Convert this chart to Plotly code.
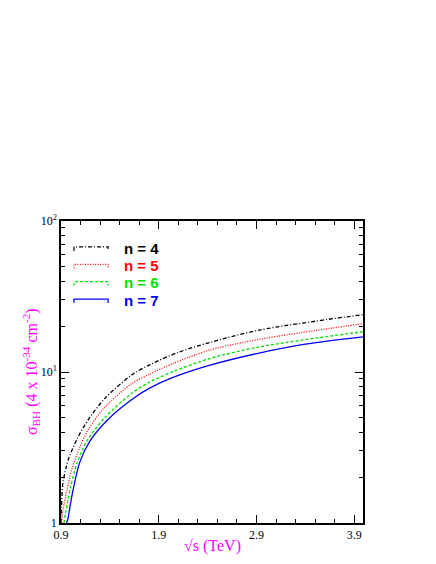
import plotly.graph_objects as go

# sqrt(s) in TeV and cross sections (units of 4e-34 cm^-2)
x_n4 = [0.9, 0.905, 0.92, 0.95, 0.972, 1.064, 1.176, 1.35, 1.627, 1.811, 2.1, 2.425, 2.937, 3.99]
y_n4 = [1.0, 1.3, 1.85, 2.3, 2.6, 3.6, 4.8, 6.7, 9.6, 11.2, 13.5, 15.7, 19.0, 24.0]

x_n5 = [0.905, 0.92, 0.961, 1.013, 1.094, 1.176, 1.35, 1.627, 1.811, 2.046, 2.425, 2.937, 3.99]
y_n5 = [1.0, 1.22, 1.65, 2.3, 3.19, 4.13, 5.87, 8.4, 9.7, 11.4, 14.0, 16.5, 20.9]

x_n6 = [0.93, 0.945, 0.97, 1.0, 1.064, 1.166, 1.35, 1.627, 1.811, 2.046, 2.425, 2.937, 3.99]
y_n6 = [1.0, 1.15, 1.4, 1.75, 2.5, 3.5, 5.0, 7.25, 8.6, 10.05, 12.3, 14.7, 18.5]

x_n7 = [0.955, 0.965, 0.975, 0.992, 1.023, 1.094, 1.197, 1.381, 1.657, 1.811, 2.046, 2.425, 2.937, 3.4, 3.99]
y_n7 = [1.0, 1.03, 1.1, 1.28, 1.65, 2.55, 3.5, 4.85, 6.8, 7.85, 9.2, 11.1, 13.4, 15.3, 17.1]

labels = ["n = 4", "n = 5", "n = 6", "n = 7"]
colors = ["black", "red", "#00e000", "blue"]
dashes = ["4px,2px,1px,2px", "1px,1.5px", "3px,2px", "solid"]
xs_all = [x_n4, x_n5, x_n6, x_n7]
ys_all = [y_n4, y_n5, y_n6, y_n7]

x_tickvals = [0.9, 1.9, 2.9, 3.9]
x_ticktext = ["0.9", "1.9", "2.9", "3.9"]
y_tickvals = [1, 10, 100]
y_ticktext = ["1", "10<sup>1</sup>", "10<sup>2</sup>"]
y_minor = [2, 3, 4, 5, 6, 7, 8, 9, 20, 30, 40, 50, 60, 70, 80, 90]

fig = go.Figure()
for name, xs, ys, col, dash in zip(labels, xs_all, ys_all, colors, dashes):
    fig.add_trace(go.Scatter(
        x=xs, y=ys, mode="lines",
        line=dict(color=col, width=1.3, dash=dash, shape="spline", smoothing=0.8),
        name=name, showlegend=False,
    ))

serif = "Liberation Serif, Times New Roman, serif"
sans = "Liberation Sans, Arial, sans-serif"

# hand-drawn legend (line samples + coloured bold labels)
leg_x0, leg_x1, leg_tx = 0.043, 0.156, 0.202
leg_y0, leg_step, tick_h = 0.914, 0.0575, 0.013
for i, (name, col, dash) in enumerate(zip(labels, colors, dashes)):
    yy = leg_y0 - i * leg_step
    fig.add_shape(type="path", xref="paper", yref="paper",
                  path=f"M {leg_x0},{yy - tick_h} L {leg_x0},{yy} L {leg_x1},{yy} L {leg_x1},{yy - tick_h}",
                  line=dict(color=col, width=1.2, dash=dash))
    fig.add_annotation(text=f"<b>{name}</b>", xref="paper", yref="paper",
                       x=leg_tx, y=yy - 0.004, xanchor="left", yanchor="middle",
                       showarrow=False, font=dict(family=sans, size=15, color=col))

fig.update_layout(
    width=428, height=548,
    margin=dict(l=53, r=73, t=213, b=33),
    paper_bgcolor="white", plot_bgcolor="white",
    showlegend=False,
    xaxis=dict(range=[0.9, 3.99], tickvals=x_tickvals, ticktext=x_ticktext,
               ticks="inside", ticklen=8, tickcolor="black", tickwidth=1,
               minor=dict(ticks="inside", ticklen=4, dtick=0.2, tick0=0.9, tickcolor="black"),
               showline=True, linecolor="black", linewidth=1.5, mirror="ticks",
               showgrid=False, zeroline=False,
               tickfont=dict(family=serif, size=12, color="black")),
    yaxis=dict(type="log", range=[0, 2], tickvals=y_tickvals, ticktext=y_ticktext,
               ticks="inside", ticklen=8, tickcolor="black", tickwidth=1,
               minor=dict(ticks="inside", ticklen=4, tickvals=y_minor, tickcolor="black"),
               showline=True, linecolor="black", linewidth=1.5, mirror="ticks",
               showgrid=False, zeroline=False,
               tickfont=dict(family=serif, size=12, color="black")),
)

fig.add_annotation(text="√s (TeV)", xref="paper", yref="paper", x=0.5, y=0, yshift=-34,
                   showarrow=False, xanchor="center", yanchor="bottom",
                   font=dict(family=serif, size=16, color="magenta"))
fig.add_annotation(text="σ<sub>BH</sub> (4 x 10<sup>-34</sup> cm<sup>-2</sup>)",
                   xref="paper", yref="paper", x=0, xshift=-30, y=0.5, textangle=-90,
                   showarrow=False, xanchor="center", yanchor="middle",
                   font=dict(family=serif, size=16, color="magenta"))

fig.write_html("out.html")
